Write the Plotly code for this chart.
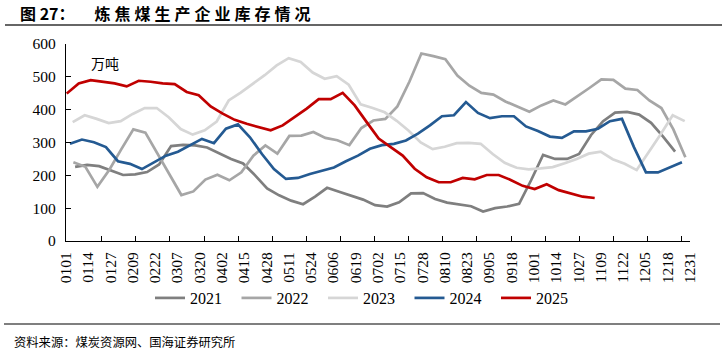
import plotly.graph_objects as go

# ---------------- data ----------------
years = ["2021", "2022", "2023", "2024", "2025"]

v2021 = [226, 232, 228, 215, 201, 203, 210, 233, 289, 293, 291, 285, 268, 250, 236, 200, 160,
         139, 123, 112, 135, 162, 150, 138, 126, 109, 105, 118, 145, 146, 128, 117, 112, 106,
         90, 100, 105, 113, 185, 262, 250, 250, 265, 323, 365, 391, 393, 385, 360, 318, 272]
v2022 = [240, 226, 165, 217, 280, 340, 330, 268, 202, 140, 151, 187, 202, 185, 209, 260, 291,
         266, 320, 321, 332, 314, 307, 292, 344, 367, 372, 410, 485, 571, 563, 554, 504, 473,
         451, 446, 425, 409, 394, 413, 428, 416, 440, 466, 492, 491, 464, 460, 428, 405, 340, 255]
v2023 = [362, 383, 372, 359, 365, 387, 405, 405, 377, 341, 324, 337, 364, 428, 452, 478, 505,
         535, 557, 545, 513, 494, 502, 476, 416, 405, 392, 366, 336, 300, 280, 287, 298, 299,
         296, 265, 238, 223, 218, 221, 225, 237, 250, 266, 272, 249, 235, 216, 270, 325, 383, 365]
v2024 = [296, 309, 301, 286, 243, 235, 219, 240, 260, 272, 291, 311, 298, 342, 355, 316, 265,
         219, 189, 192, 204, 214, 224, 243, 260, 281, 292, 296, 306, 327, 352, 380, 383, 423,
         390, 374, 380, 380, 349, 335, 318, 314, 334, 334, 342, 365, 372, 286, 209, 209, 224, 240]
v2025 = [449, 480, 490, 485, 480, 471, 488, 485, 480, 478, 454, 444, 410, 388, 369, 357, 346,
         337, 352, 377, 403, 432, 432, 451, 413, 362, 312, 286, 260, 220, 194, 179, 179, 192,
         188, 201, 201, 186, 168, 158, 173, 155, 145, 135, 131]
series_values = [v2021, v2022, v2023, v2024, v2025]
# day of year (axis days) of each series' first weekly observation
start_day = [5.3, 4.3, 3.9, 2.3, 0.4]

x_tick_labels = ["0101", "0114", "0127", "0209", "0222", "0307", "0320", "0402", "0415",
                 "0428", "0511", "0524", "0606", "0619", "0702", "0715", "0728", "0810",
                 "0823", "0905", "0918", "1001", "1014", "1027", "1109", "1122", "1205",
                 "1218", "1231"]
y_ticks = [0, 100, 200, 300, 400, 500, 600]

# ---------------- style ----------------
colors = ["#7f7f7f", "#a6a6a6", "#d6d6d6", "#245a92", "#c00000"]
W, H = 722, 356
L, R, T, B = 66, 32, 44, 115
PW, PH = W - L - R, H - T - B
serif = "Liberation Serif, Times New Roman, serif"
cjk = "Noto Sans CJK SC, sans-serif"


def px_to_paper_x(px):
    return (px - L) / PW


def px_to_paper_y(py):
    return (H - B - py) / PH


fig = go.Figure()
for name, vals, s0, c in zip(years, series_values, start_day, colors):
    xs = [s0 + 7 * i for i in range(len(vals))]
    fig.add_trace(go.Scatter(x=xs, y=vals, name=name, mode="lines",
                             line=dict(color=c, width=2.7)))

label_pos = [13 * k for k in range(len(x_tick_labels))]
minor_pos = [20.8 + 19.9 * k for k in range(18)]

fig.update_xaxes(range=[0, 364], tickmode="array", tickvals=label_pos, ticktext=x_tick_labels,
                 tickangle=-90, ticks="", showline=True, linecolor="black", linewidth=1.3,
                 showgrid=False, zeroline=False, automargin=False,
                 tickfont=dict(family=serif, size=15.5, color="black"),
                 ticklabelstandoff=4,
                 minor=dict(tickmode="array", tickvals=minor_pos, ticks="inside",
                            ticklen=5, tickwidth=1.3, tickcolor="black", showgrid=False))
fig.update_yaxes(range=[0, 600], tickmode="array", tickvals=y_ticks, ticks="inside",
                 ticklen=5, tickwidth=1.3, tickcolor="black", showline=True,
                 linecolor="black", linewidth=1.3, showgrid=False, zeroline=False,
                 automargin=False,
                 tickfont=dict(family=serif, size=15.5, color="black"),
                 ticklabelstandoff=6)

title_txt = ("<b>图 27：\u3000\u2002\u2005" + "\u2005".join("炼焦煤生产企业库存情况") + "</b>")

fig.update_layout(
    width=W, height=H,
    margin=dict(l=L, r=R, t=T, b=B, autoexpand=False),
    paper_bgcolor="white", plot_bgcolor="white",
    showlegend=True,
    legend=dict(orientation="h", xref="container", yref="container",
                x=150 / W, xanchor="left", y=1 - 298 / H, yanchor="middle",
                font=dict(family=serif, size=16, color="black"),
                bgcolor="rgba(0,0,0,0)", itemwidth=30,
                entrywidth=41.5, entrywidthmode="pixels"),
    annotations=[
        dict(text=title_txt, xref="paper", yref="paper", x=px_to_paper_x(18),
             y=px_to_paper_y(13), xanchor="left", yanchor="middle", showarrow=False,
             font=dict(family=cjk, size=16, color="black")),
        dict(text="万吨", xref="paper", yref="paper", x=px_to_paper_x(89),
             y=px_to_paper_y(63), xanchor="left", yanchor="middle", showarrow=False,
             font=dict(family=cjk, size=14, color="black")),
        dict(text="资料来源：煤炭资源网、国海证券研究所", xref="paper", yref="paper",
             x=px_to_paper_x(12), y=px_to_paper_y(342), xanchor="left", yanchor="middle",
             showarrow=False, font=dict(family=cjk, size=12.3, color="black")),
    ],
    shapes=[
        dict(type="line", xref="paper", yref="paper", x0=px_to_paper_x(5), x1=px_to_paper_x(722),
             y0=px_to_paper_y(25), y1=px_to_paper_y(25), line=dict(color="#333333", width=1.3)),
        dict(type="line", xref="paper", yref="paper", x0=px_to_paper_x(4), x1=px_to_paper_x(720),
             y0=px_to_paper_y(324), y1=px_to_paper_y(324), line=dict(color="#555555", width=1.3)),
    ],
)

fig.write_html("out.html", config={"displayModeBar": False},
               post_script="document.body.style.margin='0px';")
